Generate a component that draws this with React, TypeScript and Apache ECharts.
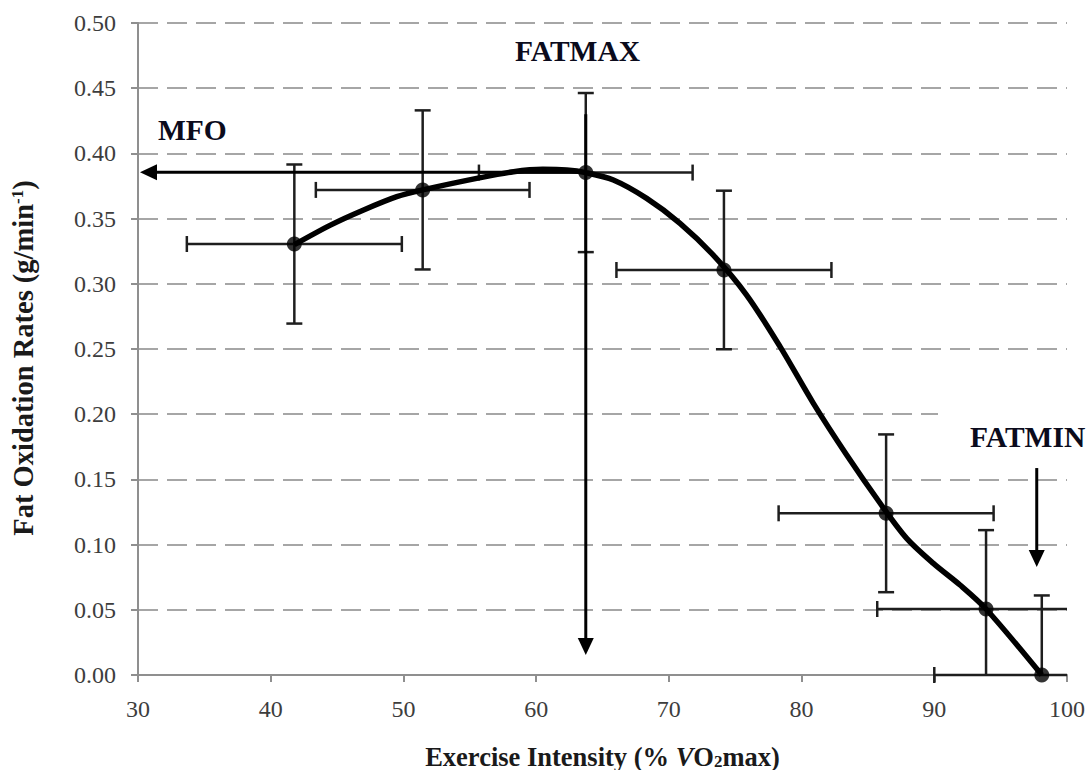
import React, { useEffect, useRef } from "react";
import * as echarts from "echarts";

// Mean points (exercise intensity %VO2max, fat oxidation g/min)
const pointX = [41.78, 51.45, 63.74, 74.15, 86.37, 93.9, 98.1];
const pointY = [0.3305, 0.372, 0.3853, 0.3106, 0.124, 0.0506, 0.0];
// Error magnitudes (±)
const errX = [8.1, 8.05, 8.05, 8.1, 8.1, 8.2, 8.1];
const errY = [0.061, 0.061, 0.061, 0.0608, 0.0605, 0.0605, 0.061];

// Fitted curve
const curveX = [41.78, 44.5, 47.0, 49.5, 51.45, 55.8, 58.3, 60.5, 62.3, 63.74, 65.82, 68.33, 70.84, 73.35, 75.86, 78.38, 80.89, 83.4, 85.92, 87.92, 89.93, 91.94, 93.9, 98.1];
const curveY = [0.330, 0.345, 0.3566, 0.3668, 0.372, 0.3814, 0.386, 0.3878, 0.3873, 0.3853, 0.3796, 0.3655, 0.3464, 0.322, 0.2914, 0.2518, 0.2083, 0.1687, 0.1317, 0.1048, 0.0856, 0.069, 0.0506, 0.0];

// Annotation arrows [x1, y1, x2(tip), y2(tip)]
const arrowFrom = [[63.74, 0.3855], [63.74, 0.43], [97.72, 0.1587]];
const arrowTo = [[30.15, 0.3855], [63.74, 0.0153], [97.72, 0.0828]];

const xTicks = { min: 30, max: 100, interval: 10 };
const yTicks = { min: 0, max: 0.5, interval: 0.05 };

const xName = "Exercise Intensity (% {v|V}O{s|2}max)";
const yName = "Fat Oxidation Rates (g/min{p|-1})";
const labels = ["MFO", "FATMAX", "FATMIN"];

const SERIF = "Liberation Serif";

export default function App() {
  const ref = useRef<HTMLDivElement>(null);
  useEffect(() => {
    if (!ref.current) return;
    const chart = echarts.init(ref.current, undefined, { renderer: "svg" });
    const X_MIN = xTicks.min, X_MAX = xTicks.max, Y_MIN = yTicks.min, Y_MAX = yTicks.max;

    const errorData = pointX.map((x, i) => [x, pointY[i], errX[i], errY[i]]);
    const arrowData = arrowFrom.map((f, i) => [f[0], f[1], arrowTo[i][0], arrowTo[i][1]]);

    const option: any = {
      animation: false,
      backgroundColor: "#ffffff",
      textStyle: { fontFamily: SERIF },
      grid: { left: 138, right: 24, top: 23, bottom: 95, containLabel: false, outerBoundsMode: "none" },
      xAxis: {
        type: "value",
        min: xTicks.min,
        max: xTicks.max,
        interval: xTicks.interval,
        name: xName,
        nameLocation: "middle",
        nameGap: 68,
        nameTextStyle: {
          fontFamily: SERIF,
          fontWeight: "bold",
          fontSize: 26.5,
          color: "#1a1a1a",
          rich: {
            v: { fontFamily: SERIF, fontWeight: "bold", fontStyle: "italic", fontSize: 26.5, color: "#1a1a1a" },
            s: { fontFamily: SERIF, fontWeight: "bold", fontSize: 17, color: "#1a1a1a", verticalAlign: "bottom", padding: [8, 0, 0, 0] },
          },
        },
        axisLine: { show: true, lineStyle: { color: "#8f8f8f", width: 2 } },
        axisTick: { show: true, length: 7, lineStyle: { color: "#8f8f8f", width: 2 } },
        axisLabel: { margin: 22, fontFamily: SERIF, fontSize: 24, color: "#3d3d3d" },
        splitLine: { show: false },
      },
      yAxis: {
        type: "value",
        min: yTicks.min,
        max: yTicks.max,
        interval: yTicks.interval,
        name: yName,
        nameLocation: "middle",
        nameGap: 100,
        nameRotate: 90,
        nameTextStyle: {
          fontFamily: SERIF,
          fontWeight: "bold",
          fontSize: 28.5,
          color: "#1a1a1a",
          padding: [0, 18, 0, 0],
          rich: {
            p: { fontFamily: SERIF, fontWeight: "bold", fontSize: 17, color: "#1a1a1a", verticalAlign: "top" },
          },
        },
        axisLine: { show: true, lineStyle: { color: "#8f8f8f", width: 2 } },
        axisTick: { show: true, length: 7, lineStyle: { color: "#8f8f8f", width: 2 } },
        axisLabel: {
          margin: 22,
          fontFamily: SERIF,
          fontSize: 24,
          color: "#3d3d3d",
          formatter: (v: number) => v.toFixed(2),
        },
        splitLine: { show: true, lineStyle: { color: "#a6a6a6", width: 2, type: [20, 9] } },
      },
      graphic: [
        { type: "rect", z: 1, shape: { x: 938, y: 400, width: 153, height: 60 }, style: { fill: "#ffffff" } },
        { type: "text", z: 10, x: 158, y: 130, style: { text: labels[0], fontFamily: SERIF, fontWeight: "bold", fontSize: 29.5, fill: "#0b0b1c", verticalAlign: "middle" } },
        { type: "text", z: 10, x: 515, y: 51, style: { text: labels[1], fontFamily: SERIF, fontWeight: "bold", fontSize: 29.5, fill: "#0b0b1c", verticalAlign: "middle" } },
        { type: "text", z: 10, x: 970, y: 437, style: { text: labels[2], fontFamily: SERIF, fontWeight: "bold", fontSize: 29.5, fill: "#0b0b1c", verticalAlign: "middle" } },
      ],
      series: [
        {
          type: "custom",
          name: "error",
          z: 2,
          data: errorData,
          encode: { x: 0, y: 1 },
          renderItem: (params: any, api: any) => {
            const x = api.value(0), y = api.value(1), ex = api.value(2), ey = api.value(3);
            const style = { stroke: "#1e1e1e", lineWidth: 2.5 };
            const cap = 8;
            const children: any[] = [];
            const xl = Math.max(x - ex, X_MIN), xh = Math.min(x + ex, X_MAX);
            const yl = Math.max(y - ey, Y_MIN), yh = Math.min(y + ey, Y_MAX);
            const pl = api.coord([xl, y]), ph = api.coord([xh, y]);
            children.push({ type: "line", shape: { x1: pl[0], y1: pl[1], x2: ph[0], y2: ph[1] }, style });
            if (x - ex >= X_MIN) children.push({ type: "line", shape: { x1: pl[0], y1: pl[1] - cap, x2: pl[0], y2: pl[1] + cap }, style });
            if (x + ex <= X_MAX) children.push({ type: "line", shape: { x1: ph[0], y1: ph[1] - cap, x2: ph[0], y2: ph[1] + cap }, style });
            const vl = api.coord([x, yl]), vh = api.coord([x, yh]);
            if (yh > yl) children.push({ type: "line", shape: { x1: vl[0], y1: vl[1], x2: vh[0], y2: vh[1] }, style });
            if (y - ey >= Y_MIN) children.push({ type: "line", shape: { x1: vl[0] - cap, y1: vl[1], x2: vl[0] + cap, y2: vl[1] }, style });
            if (y + ey <= Y_MAX) children.push({ type: "line", shape: { x1: vh[0] - cap, y1: vh[1], x2: vh[0] + cap, y2: vh[1] }, style });
            return { type: "group", children };
          },
        },
        {
          type: "line",
          name: "fit",
          z: 3,
          data: curveX.map((x, i) => [x, curveY[i]]),
          smooth: 0.3,
          symbol: "none",
          lineStyle: { color: "#000000", width: 5.5 },
        },
        {
          type: "scatter",
          name: "points",
          z: 4,
          data: pointX.map((x, i) => [x, pointY[i]]),
          symbol: "circle",
          symbolSize: 15,
          itemStyle: { color: "#000000" },
        },
        {
          type: "custom",
          name: "arrows",
          z: 5,
          data: arrowData,
          encode: { x: 0, y: 1 },
          renderItem: (params: any, api: any) => {
            const a = api.coord([api.value(0), api.value(1)]);
            const b = api.coord([api.value(2), api.value(3)]);
            const dx = b[0] - a[0], dy = b[1] - a[1];
            const len = Math.sqrt(dx * dx + dy * dy);
            const ux = dx / len, uy = dy / len;
            const hl = 17, hw = 8;
            const bx = b[0] - ux * hl, by = b[1] - uy * hl;
            return {
              type: "group",
              children: [
                { type: "line", shape: { x1: a[0], y1: a[1], x2: bx, y2: by }, style: { stroke: "#000", lineWidth: 3 } },
                {
                  type: "polygon",
                  shape: { points: [[b[0], b[1]], [bx - uy * hw, by + ux * hw], [bx + uy * hw, by - ux * hw]] },
                  style: { fill: "#000" },
                },
              ],
            };
          },
        },
      ],
    };
    chart.setOption(option);
    return () => chart.dispose();
  }, []);
  return <div ref={ref} style={{ position: "fixed", left: 0, top: 0, width: 1091, height: 770, background: "#fff" }} />;
}
